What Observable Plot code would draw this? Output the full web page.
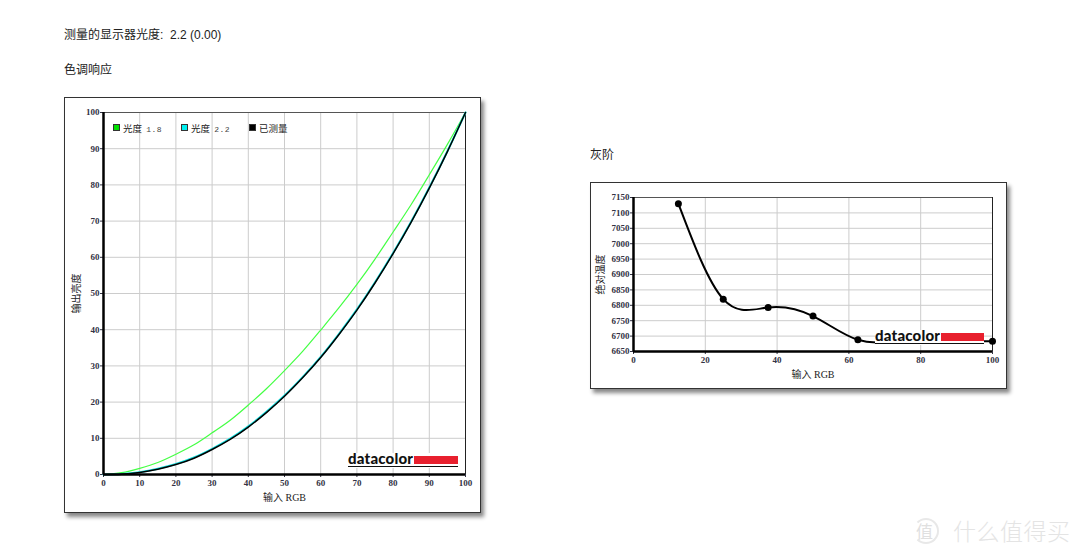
<!DOCTYPE html>
<html><head><meta charset="utf-8">
<script src="https://cdn.jsdelivr.net/npm/d3@7"></script>
<script src="https://cdn.jsdelivr.net/npm/@observablehq/plot@0.6"></script>
<style>
html,body{margin:0;padding:0;background:#fff;width:1080px;height:555px;overflow:hidden;font-family:"Liberation Sans","Noto Sans CJK SC",sans-serif;color:#222}
.t{position:absolute;font-size:12px;line-height:16px;white-space:nowrap}
.frame{position:absolute;box-sizing:border-box;border:1px solid #333;background:#fff;box-shadow:3px 4px 4px #888}
.frame svg{position:absolute;left:-1px;top:-1px;display:block;max-width:none!important}
.frame svg g[aria-label$="axis label"] text{font-weight:400;font-size:10px;fill:#222}
.logo{position:absolute;background:#fff;height:15px}
.logo b{position:absolute;left:0;top:-4px;font:900 15px/18px Lato,"Open Sans",sans-serif;color:#111;letter-spacing:.2px}
.logo i{position:absolute;top:3px;height:8px;background:#e8202e}
.logo u{position:absolute;left:0;top:13px;height:1px;background:#111}
.lg{position:absolute;font:9.5px/12px "Noto Sans CJK SC",sans-serif;color:#222;white-space:nowrap}
.lg span{font:8px/12px "Liberation Mono",monospace;color:#444;letter-spacing:.5px;margin-left:2px}
.sw{position:absolute;width:5px;height:5px;border:1px solid #333}
.wm{position:absolute;color:#e4e4e4;font-size:23px;line-height:26px;letter-spacing:.5px;white-space:nowrap;font-family:"Noto Sans CJK SC",sans-serif;font-weight:300}
.wmc{position:absolute;left:913px;top:518px;width:26px;height:26px;border:2px solid #e8e8e8;border-left-color:transparent;border-radius:50%;box-sizing:border-box;color:#e0e0e0;font-size:17px;line-height:21px;text-indent:1px;font-family:"Noto Sans CJK SC",sans-serif}
</style></head><body>
<div class="t" style="left:64px;top:27px">测量的显示器光度:&nbsp; 2.2 (0.00)</div>
<div class="t" style="left:64px;top:62px">色调响应</div>
<div class="t" style="left:590px;top:147px">灰阶</div>
<div id="left" class="frame" style="left:64px;top:97px;width:417px;height:416px"></div>
<div id="right" class="frame" style="left:590px;top:182px;width:417px;height:207px"></div>
<div class="wmc">值</div>
<div class="wm" style="left:953px;top:517px">什么值得买</div>
<script>
const inputLevels = [0,5,10,15,20,25,30,35,40,45,50,55,60,65,70,75,80,85,90,95,100];
const gamma18Values = [0,0.5,1.7,3.3,5.6,8.2,11.5,15,19.2,23.7,28.7,34,39.9,46,52.5,59.5,67,74.6,82.8,91.2,100];
const gamma22Values = [0,0.15,0.65,1.6,2.9,4.7,7.1,9.9,13.3,17.3,21.8,26.9,32.5,38.8,45.6,53.1,61.2,69.9,79.3,89.3,100];
const measuredValues = [0,0.1,0.55,1.45,2.75,4.5,6.9,9.7,13.1,17.1,21.6,26.7,32.3,38.6,45.4,52.9,61,69.7,79.1,89.2,100];
const tempInput = [12.5,25,37.5,50,62.5,75,87.5,100];
const tempValues = [7130,6820,6793,6765,6688,6684,6684,6683];
const leftXTicks = [0,10,20,30,40,50,60,70,80,90,100];
const leftYTicks = [0,10,20,30,40,50,60,70,80,90,100];
const rightXTicks = [0,20,40,60,80,100];
const rightYTicks = [6650,6700,6750,6800,6850,6900,6950,7000,7050,7100,7150];
const seriesLabels = ["光度","已测量"];
const xTitle = "输入 RGB", yTitleLeft = "输出亮度", yTitleRight = "绝对温度";

const toRows = (ys) => inputLevels.map((x,i)=>({x,y:ys[i]}));
const font = '"Liberation Serif","Noto Sans CJK SC",serif';
const base = (o) => ({
  style:{fontFamily:font,fontSize:"9px",fontWeight:"700",color:"#334",background:"transparent",overflow:"visible"},
  x:{domain:[0,100],ticks:o.xt,tickSize:3,tickPadding:2,label:null},
  y:{domain:o.yd,ticks:o.yt,tickSize:3,tickPadding:1,label:null}
});
const frameMarks = (yd,xt,yt,xlabel,ylabel,offX) => [
  Plot.gridX(xt,{stroke:"#ccc",strokeOpacity:1,strokeWidth:1}),
  Plot.gridY(yt,{stroke:"#ccc",strokeOpacity:1,strokeWidth:1}),
  Plot.axisX({ticks:xt,tickSize:3,tickPadding:2,label:xlabel,labelAnchor:"center",labelArrow:"none",labelOffset:26,tickFormat:d3.format("d")}),
  Plot.axisY({ticks:yt,tickSize:3,tickPadding:1,label:ylabel,labelAnchor:"center",labelArrow:"none",labelOffset:offX,tickFormat:d3.format("d")}),
  Plot.ruleY([yd[1]],{stroke:"#555",strokeWidth:1}),
  Plot.ruleX([100],{stroke:"#222",strokeWidth:1})
];
const frameFront = (yd) => [
  Plot.ruleX([0],{stroke:"#000",strokeWidth:2.5}),
  Plot.ruleY([yd[0]],{stroke:"#000",strokeWidth:2.5})
];

const gy=[0,100];
document.getElementById("left").append(Plot.plot({
  ...base({xt:leftXTicks,yt:leftYTicks,yd:gy}),
  width:417,height:416,marginLeft:39,marginRight:16,marginTop:15,marginBottom:39,
  marks:[
    ...frameMarks(gy,leftXTicks,leftYTicks,xTitle,yTitleLeft,31),
    Plot.line(toRows(gamma18Values),{x:"x",y:"y",stroke:"#44ff44",strokeWidth:1.2,curve:"natural"}),
    Plot.line(toRows(gamma22Values),{x:"x",y:"y",stroke:"#10e0e0",strokeWidth:2,curve:"natural"}),
    Plot.line(toRows(measuredValues),{x:"x",y:"y",stroke:"#000",strokeWidth:1.5,curve:"natural"}),
    ...frameFront(gy)
  ]
}));

const ry=[6650,7150];
const tempRows = tempInput.map((x,i)=>({x,y:tempValues[i]}));
document.getElementById("right").append(Plot.plot({
  ...base({xt:rightXTicks,yt:rightYTicks,yd:ry}),
  width:417,height:207,marginLeft:43,marginRight:15,marginTop:15,marginBottom:38,
  marks:[
    ...frameMarks(ry,rightXTicks,rightYTicks,xTitle,yTitleRight,37),
    Plot.line(tempRows,{x:"x",y:"y",stroke:"#000",strokeWidth:2,curve:"natural"}),
    Plot.dot(tempRows,{x:"x",y:"y",r:3.5,fill:"#000"}),
    ...frameFront(ry)
  ]
}));

function addLogo(parent,x,y,w){
  const d=document.createElement("div");d.className="logo";
  d.style.cssText=`left:${x}px;top:${y}px;width:${w}px`;
  d.innerHTML=`<b>datacolor</b><i style="left:66px;width:${w-66}px"></i><u style="width:${w}px"></u>`;
  parent.append(d);
}
addLogo(document.body,348,453,110);
addLogo(document.body,875,330,109);

function legendItem(x,color,html){
  const s=document.createElement("div");s.className="sw";
  s.style.cssText=`left:${x}px;top:124px;background:${color}`;document.body.append(s);
  const t=document.createElement("div");t.className="lg";
  t.style.cssText=`left:${x+10}px;top:122px`;t.innerHTML=html;document.body.append(t);
}
legendItem(113,"#00e000",`${seriesLabels[0]} <span>1.8</span>`);
legendItem(181,"#00f0f0",`${seriesLabels[0]} <span>2.2</span>`);
legendItem(249,"#000",seriesLabels[1]);
</script>
</body></html>
